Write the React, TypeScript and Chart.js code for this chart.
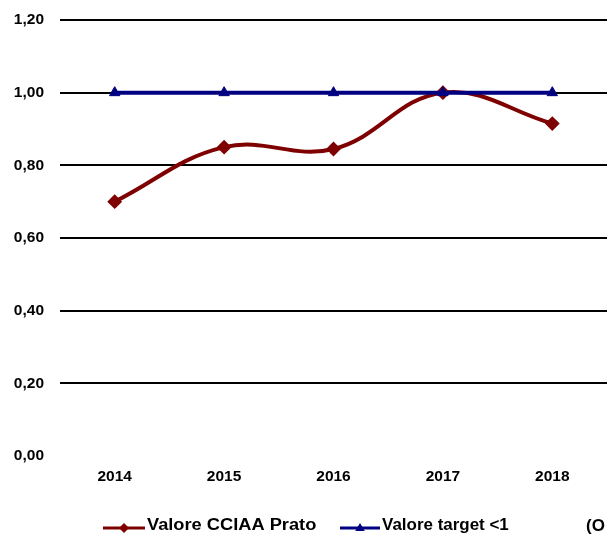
import React, { useEffect, useRef } from "react";
import { Chart, registerables } from "chart.js";

Chart.register(...registerables);

const categories = ["2014", "2015", "2016", "2017", "2018"];
const cciaaValues = [0.7, 0.85, 0.845, 1.0, 0.915];
const targetValues = [1.0, 1.0, 1.0, 1.0, 1.0];
const yTickValues = [0, 0.2, 0.4, 0.6, 0.8, 1.0, 1.2];
const legendLabels = ["Valore CCIAA Prato", "Valore target <1", "(O"];

const RED = "#7f0000";
const NAVY = "#000080";
const FONT = "'Liberation Sans', Arial, Helvetica, sans-serif";

function drawDiamond(ctx: CanvasRenderingContext2D, x: number, y: number, r: number, color: string) {
  ctx.beginPath();
  ctx.moveTo(x, y - r);
  ctx.lineTo(x + r, y);
  ctx.lineTo(x, y + r);
  ctx.lineTo(x - r, y);
  ctx.closePath();
  ctx.fillStyle = color;
  ctx.fill();
}

function drawTriangle(ctx: CanvasRenderingContext2D, x: number, y: number, r: number, color: string) {
  ctx.beginPath();
  ctx.moveTo(x, y - r);
  ctx.lineTo(x + r * 0.95, y + r * 0.6);
  ctx.lineTo(x - r * 0.95, y + r * 0.6);
  ctx.closePath();
  ctx.fillStyle = color;
  ctx.fill();
}

function stretchedText(ctx: CanvasRenderingContext2D, text: string, x: number, y: number, sx: number) {
  ctx.save();
  ctx.translate(x, y);
  ctx.scale(sx, 1);
  ctx.fillText(text, 0, 0);
  ctx.restore();
}

const legendPlugin = {
  id: "customLegend",
  afterDraw(chart: any) {
    const ctx: CanvasRenderingContext2D = chart.ctx;
    const area = chart.chartArea;
    const y = chart.height - 9;
    ctx.save();
    ctx.font = `bold 16px ${FONT}`;
    ctx.textBaseline = "middle";
    ctx.textAlign = "left";

    // item 1
    const x1 = area.left + 43;
    ctx.strokeStyle = RED;
    ctx.lineWidth = 3;
    ctx.beginPath();
    ctx.moveTo(x1, y);
    ctx.lineTo(x1 + 42, y);
    ctx.stroke();
    drawDiamond(ctx, x1 + 21, y, 5, RED);
    ctx.fillStyle = "#000";
    stretchedText(ctx, legendLabels[0], x1 + 44, y - 2, 1.14);

    // item 2
    const x2 = area.left + 280;
    ctx.strokeStyle = NAVY;
    ctx.lineWidth = 3;
    ctx.beginPath();
    ctx.moveTo(x2, y);
    ctx.lineTo(x2 + 40, y);
    ctx.stroke();
    drawTriangle(ctx, x2 + 20, y, 5, NAVY);
    ctx.fillStyle = "#000";
    stretchedText(ctx, legendLabels[1], x2 + 42, y - 2, 1.06);

    // item 3 (cut off)
    ctx.font = `bold 17px ${FONT}`;
    ctx.fillText(legendLabels[2], area.left + 526, y - 2);
    ctx.restore();
  },
};

export default function App() {
  const ref = useRef<HTMLCanvasElement | null>(null);

  useEffect(() => {
    document.body.style.margin = "0";
    const canvas = ref.current;
    if (!canvas) return;
    const chart = new Chart(canvas, {
      type: "line",
      data: {
        labels: categories,
        datasets: [
          {
            label: legendLabels[1],
            data: targetValues,
            borderColor: NAVY,
            backgroundColor: NAVY,
            borderWidth: 4,
            pointStyle: "triangle",
            pointRadius: 6,
            pointBorderWidth: 1,
            tension: 0,
          },
          {
            label: legendLabels[0],
            data: cciaaValues,
            borderColor: RED,
            backgroundColor: RED,
            borderWidth: 4,
            pointStyle: "rectRot",
            pointRadius: 6,
            pointBorderWidth: 2,
            tension: 0.4,
          },
        ],
      },
      options: {
        responsive: false,
        animation: false,
        maintainAspectRatio: false,
        layout: { autoPadding: false, padding: { left: 0, top: 20, right: 1, bottom: 0 } },
        plugins: {
          legend: { display: false },
          tooltip: { enabled: false },
        },
        scales: {
          x: {
            offset: true,
            grid: { display: false },
            border: { display: false },
            ticks: {
              color: "#000",
              font: { family: FONT, size: 15.5, weight: "bold" },
              padding: 3,
              maxRotation: 0,
            },
            afterFit: (scale: any) => {
              scale.height = 81;
              scale.paddingLeft = 0;
              scale.paddingRight = 0;
            },
          },
          y: {
            min: 0,
            max: 1.2,
            afterBuildTicks: (scale: any) => {
              scale.ticks = yTickValues.map((v) => ({ value: v }));
            },
            grid: {
              color: (c: any) => (c.tick && c.tick.value === 0 ? "rgba(0,0,0,0)" : "#000"),
              lineWidth: 2,
              drawTicks: false,
            },
            border: { display: false },
            ticks: {
              color: "#000",
              font: { family: FONT, size: 15.5, weight: "bold" },
              padding: 16,
              callback: (v: any) => Number(v).toFixed(2).replace(".", ","),
            },
            afterFit: (scale: any) => {
              scale.width = 60;
              scale.paddingTop = 0;
              scale.paddingBottom = 0;
            },
          },
        },
      },
      plugins: [legendPlugin],
    } as any);
    return () => chart.destroy();
  }, []);

  return (
    <div style={{ width: 608, height: 537, background: "#fff" }}>
      <canvas ref={ref} width={608} height={537} style={{ display: "block" }} />
    </div>
  );
}
